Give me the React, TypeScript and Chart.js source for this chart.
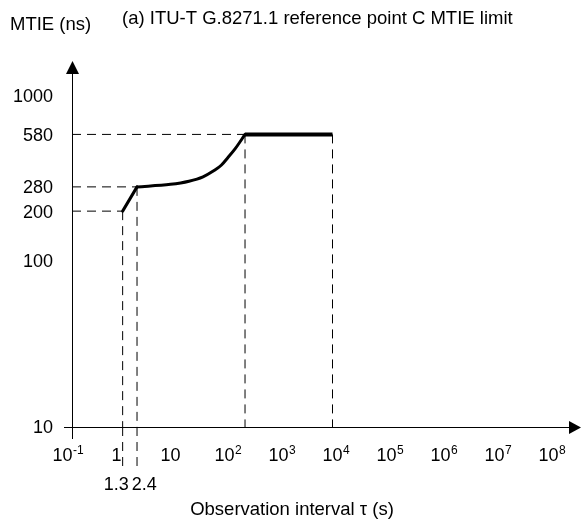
import React, { useEffect, useRef } from 'react';
import { Chart, registerables } from 'chart.js';

Chart.register(...registerables);

// MTIE limit mask, reference point C (tau in s, MTIE in ns)
const rampTau = [1.3, 2.4];
const rampMtie = [200, 280];
const curveTau = [2.4, 10, 22, 40, 63, 87, 115, 158, 240];
const curveMtie = [280, 290, 303, 322, 350, 378, 420, 476, 580];
const plateauTau = [240, 10000];
const plateauMtie = [580, 580];

// dashed guide lines
const hGuideTau = [1.3, 2.4, 240];
const hGuideMtie = [200, 280, 580];
const vGuideTau = [1.3, 2.4, 240, 10000];
const vGuideMtie = [200, 280, 580, 580];

// extra labelled tau values under the axis
const markedTau = [1.3, 2.4];
const markedTauLabels = ['1.3', '2.4'];

// axis ticks
const xTickValues = [0.1, 1, 10, 100, 1e3, 1e4, 1e5, 1e6, 1e7, 1e8];
const xTickBase = ['10', '1', '10', '10', '10', '10', '10', '10', '10', '10'];
const xTickExp = ['-1', '', '', '2', '3', '4', '5', '6', '7', '8'];
const yTickValues = [10, 100, 200, 280, 580, 1000];
const yTickLabels = ['10', '100', '200', '280', '580', '1000'];

// axis ranges
const xMin = 0.15;
const xMax = 2.5e8;
const yMin = 10;
const yMax = 1360;

const titleText = '(a) ITU-T G.8271.1 reference point C MTIE limit';
const yTitleText = 'MTIE (ns)';
const xTitleText = 'Observation interval \u03c4 (s)';

const FONT = '"Liberation Sans", Arial, Helvetica, sans-serif';

const overlay = {
  id: 'overlay',
  afterDatasetsDraw(chart: any) {
    const { ctx, chartArea: a, scales } = chart;
    const xs = scales.x;
    const ys = scales.y;
    ctx.save();
    ctx.strokeStyle = '#000';
    ctx.fillStyle = '#000';
    ctx.lineWidth = 1;

    // dashed extension of the labelled guides below the axis
    ctx.setLineDash([9, 6]);
    markedTau.forEach((t) => {
      const px = xs.getPixelForValue(t);
      ctx.beginPath();
      ctx.moveTo(px, a.bottom);
      ctx.lineTo(px, a.bottom + 43);
      ctx.stroke();
    });
    ctx.setLineDash([]);

    // axes
    const ax = Math.round(a.left) + 0.5;
    const ay = Math.round(a.bottom) + 0.5;
    ctx.beginPath();
    ctx.moveTo(ax, a.bottom + 12);
    ctx.lineTo(ax, a.top);
    ctx.stroke();
    ctx.beginPath();
    ctx.moveTo(a.left - 8, ay);
    ctx.lineTo(a.right, ay);
    ctx.stroke();
    // arrow heads
    ctx.beginPath();
    ctx.moveTo(ax, a.top - 12);
    ctx.lineTo(ax - 6.5, a.top + 1);
    ctx.lineTo(ax + 6.5, a.top + 1);
    ctx.closePath();
    ctx.fill();
    ctx.beginPath();
    ctx.moveTo(a.right + 11, ay);
    ctx.lineTo(a.right - 1, ay - 6.5);
    ctx.lineTo(a.right - 1, ay + 6.5);
    ctx.closePath();
    ctx.fill();

    // y tick labels
    ctx.textBaseline = 'alphabetic';
    ctx.font = `18px ${FONT}`;
    ctx.textAlign = 'right';
    yTickValues.forEach((v, i) => {
      const py = ys.getPixelForValue(v);
      ctx.fillText(yTickLabels[i], a.left - 19, py + 6.4);
    });

    // x tick labels with superscripts
    const xBase = a.bottom + 34;
    xTickValues.forEach((v, i) => {
      const px = xs.getPixelForValue(v);
      ctx.font = `18px ${FONT}`;
      ctx.textAlign = 'center';
      const base = xTickBase[i];
      ctx.fillText(base, px, xBase);
      if (xTickExp[i]) {
        const w = ctx.measureText(base).width;
        ctx.font = `12px ${FONT}`;
        ctx.textAlign = 'left';
        ctx.fillText(xTickExp[i], px + w / 2 + 0.5, xBase - 7.5);
      }
    });

    // labels of the marked tau values
    ctx.font = `18px ${FONT}`;
    const p0 = xs.getPixelForValue(markedTau[0]);
    const p1 = xs.getPixelForValue(markedTau[1]);
    const mid = (p0 + p1) / 2;
    ctx.textAlign = 'right';
    ctx.fillText(markedTauLabels[0], mid - 1, a.bottom + 63);
    ctx.textAlign = 'left';
    ctx.fillText(markedTauLabels[1], mid + 2, a.bottom + 63);

    // titles
    ctx.font = `18.5px ${FONT}`;
    ctx.textAlign = 'center';
    ctx.fillText(xTitleText, 292, a.bottom + 88);
    ctx.textAlign = 'left';
    ctx.fillText(yTitleText, 10, 30);
    ctx.fillText(titleText, 122, 24);

    ctx.restore();
  },
};

export default function App() {
  const ref = useRef<HTMLCanvasElement | null>(null);

  useEffect(() => {
    if (!ref.current) return;
    const guideStyle = {
      borderColor: '#000',
      borderWidth: 1,
      borderDash: [9, 6],
      pointRadius: 0,
      fill: false,
      tension: 0,
    };
    const datasets: any[] = [];
    hGuideTau.forEach((t, i) => {
      datasets.push({
        ...guideStyle,
        data: [
          { x: xMin, y: hGuideMtie[i] },
          { x: t, y: hGuideMtie[i] },
        ],
      });
    });
    vGuideTau.forEach((t, i) => {
      datasets.push({
        ...guideStyle,
        data: [
          { x: t, y: vGuideMtie[i] },
          { x: t, y: yMin },
        ],
      });
    });
    const maskStyle = {
      borderColor: '#000',
      pointRadius: 0,
      fill: false,
      borderJoinStyle: 'round',
      borderCapStyle: 'round',
    };
    datasets.push({
      ...maskStyle,
      borderWidth: 3,
      tension: 0,
      data: rampTau.map((t, i) => ({ x: t, y: rampMtie[i] })),
    });
    datasets.push({
      ...maskStyle,
      borderWidth: 3,
      cubicInterpolationMode: 'monotone',
      data: curveTau.map((t, i) => ({ x: t, y: curveMtie[i] })),
    });
    datasets.push({
      ...maskStyle,
      borderWidth: 4,
      borderCapStyle: 'butt',
      tension: 0,
      data: plateauTau.map((t, i) => ({ x: t, y: plateauMtie[i] })),
    });

    const chart = new Chart(ref.current, {
      type: 'line',
      data: { datasets },
      options: {
        responsive: false,
        animation: false,
        devicePixelRatio: 1,
        layout: { padding: { left: 72, right: 12, top: 73, bottom: 97 } },
        plugins: {
          legend: { display: false },
          title: { display: false },
          tooltip: { enabled: false },
        },
        scales: {
          x: { type: 'logarithmic', min: xMin, max: xMax, display: false },
          y: { type: 'logarithmic', min: yMin, max: yMax, display: false },
        },
      },
      plugins: [overlay],
    } as any);
    return () => chart.destroy();
  }, []);

  return (
    <div style={{ position: 'fixed', left: 0, top: 0, width: 582, height: 524, background: '#fff' }}>
      <canvas ref={ref} width={582} height={524} style={{ display: 'block' }} />
    </div>
  );
}
